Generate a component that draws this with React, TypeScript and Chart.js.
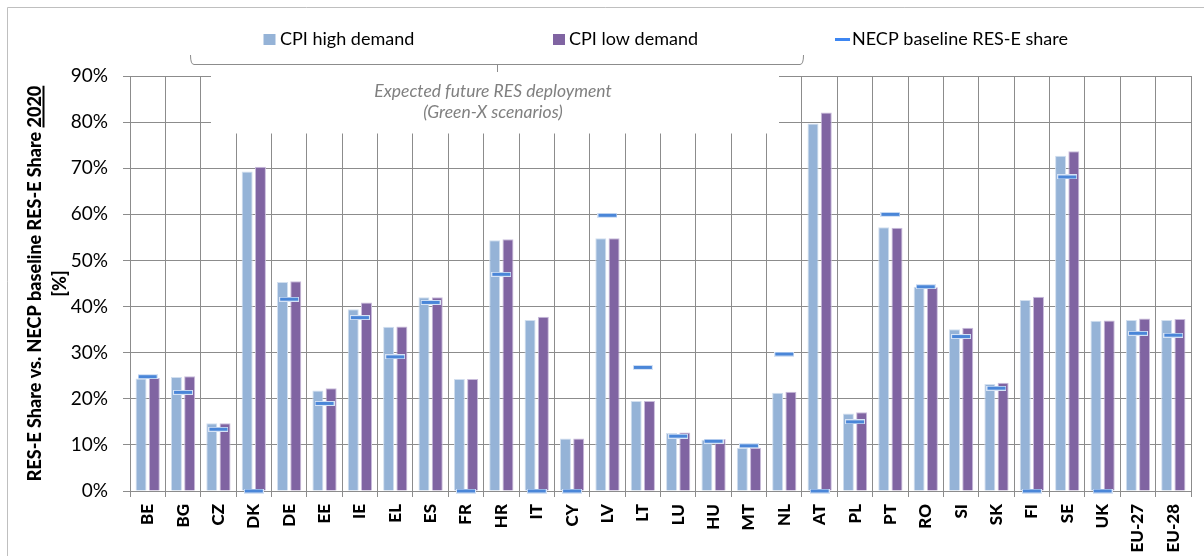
import React, { useEffect, useRef } from 'react';
import { Chart, registerables } from 'chart.js';

Chart.register(...registerables);

const categories = ['BE', 'BG', 'CZ', 'DK', 'DE', 'EE', 'IE', 'EL', 'ES', 'FR', 'HR', 'IT', 'CY', 'LV', 'LT', 'LU', 'HU', 'MT', 'NL', 'AT', 'PL', 'PT', 'RO', 'SI', 'SK', 'FI', 'SE', 'UK', 'EU-27', 'EU-28'];

const cpiHighDemand = [24.4, 24.7, 14.7, 69.3, 45.3, 21.8, 39.4, 35.6, 42.0, 24.3, 54.4, 37.1, 11.4, 54.8, 19.5, 12.6, 11.1, 9.3, 21.3, 79.7, 16.8, 57.2, 44.3, 35.1, 23.2, 41.4, 72.7, 36.9, 37.1, 37.1];

const cpiLowDemand = [24.5, 24.9, 14.7, 70.3, 45.5, 22.3, 40.9, 35.7, 42.0, 24.3, 54.6, 37.8, 11.4, 54.8, 19.5, 12.7, 11.3, 9.3, 21.5, 82.1, 17.1, 57.1, 44.2, 35.4, 23.5, 42.1, 73.7, 37.0, 37.4, 37.3];

const necpBaseline = [24.8, 21.4, 13.4, 0, 41.6, 19.0, 37.6, 29.1, 40.9, 0, 47.0, 0, 0, 59.8, 26.8, 11.9, 10.8, 9.8, 29.7, 0, 15.0, 60.0, 44.3, 33.5, 22.3, 0, 68.1, 0, 34.2, 33.8];

const yMin = 0;
const yMax = 90;
const yStep = 10;

const legendLabels = ['CPI high demand', 'CPI low demand', 'NECP baseline RES-E share'];
const yTitleLine1 = 'RES-E Share vs. NECP baseline RES-E Share ';
const yTitleYear = '2020';
const yTitleLine2 = '[%]';
const noteLines = ['Expected future RES deployment', '(Green-X scenarios)'];

const FONT = 'Lato, "Liberation Sans", sans-serif';
const BLUE = '#95B3D7';
const PURPLE = '#8064A2';
const MARK = '#4a86d8';
const GRID = '#8c8c8c';

function makeMarker(): HTMLCanvasElement {
  const c = document.createElement('canvas');
  c.width = 20;
  c.height = 5;
  const g = c.getContext('2d')!;
  g.fillStyle = '#d6e3f5';
  g.fillRect(0, 0, 20, 5);
  g.fillStyle = MARK;
  g.fillRect(1, 1, 18, 3);
  return c;
}

const decor = {
  id: 'decor',
  beforeDraw(chart: any) {
    const ctx = chart.ctx;
    ctx.save();
    ctx.fillStyle = '#fff';
    ctx.fillRect(0, 0, chart.width, chart.height);
    ctx.strokeStyle = '#bfbfbf';
    ctx.lineWidth = 1;
    ctx.beginPath();
    ctx.moveTo(7.5, chart.height);
    ctx.lineTo(7.5, 7.5);
    ctx.lineTo(chart.width, 7.5);
    ctx.stroke();
    ctx.restore();
  },
  beforeDatasetsDraw(chart: any) {
    const ctx = chart.ctx;
    const a = chart.chartArea;
    ctx.save();
    ctx.fillStyle = '#fff';
    ctx.fillRect(a.left + 81, a.top - 10, 568, 67.5);
    ctx.restore();
  },
  afterDraw(chart: any) {
    const ctx = chart.ctx;
    const a = chart.chartArea;
    ctx.save();
    // legend
    ctx.font = `18px ${FONT}`;
    ctx.textBaseline = 'alphabetic';
    ctx.textAlign = 'left';
    ctx.fillStyle = BLUE;
    ctx.fillRect(263.5, 34, 12, 11);
    ctx.fillStyle = PURPLE;
    ctx.fillRect(553, 34, 12, 11);
    ctx.fillStyle = '#3d86f2';
    ctx.fillRect(835, 38, 15, 3);
    ctx.fillStyle = '#000';
    ctx.fillText(legendLabels[0], 280, 45);
    ctx.fillText(legendLabels[1], 569, 45);
    ctx.fillText(legendLabels[2], 852, 45);

    // bracket
    ctx.strokeStyle = '#8c8c8c';
    ctx.lineWidth = 1;
    ctx.beginPath();
    ctx.moveTo(190.5, 55);
    ctx.quadraticCurveTo(190.5, 64.5, 194, 64.5);
    ctx.lineTo(800, 64.5);
    ctx.quadraticCurveTo(803.5, 64.5, 803.5, 55);
    ctx.moveTo(497.5, 64.5);
    ctx.lineTo(497.5, 72);
    ctx.stroke();

    // note
    ctx.font = `italic 17.5px ${FONT}`;
    ctx.fillStyle = '#808080';
    ctx.textAlign = 'center';
    ctx.fillText(noteLines[0], 493, 97);
    ctx.fillText(noteLines[1], 493, 118);

    // y title
    const cy = (a.top + a.bottom) / 2;
    ctx.translate(35, cy);
    ctx.rotate(-Math.PI / 2);
    ctx.font = `900 18px ${FONT}`;
    ctx.fillStyle = '#000';
    ctx.textAlign = 'left';
    ctx.textBaseline = 'middle';
    const full = yTitleLine1 + yTitleYear;
    const w = ctx.measureText(full).width;
    const w1 = ctx.measureText(yTitleLine1).width;
    const w2 = ctx.measureText(yTitleYear).width;
    ctx.fillText(yTitleLine1, -w / 2, 0);
    ctx.fillText(yTitleYear, -w / 2 + w1, 0);
    ctx.fillRect(-w / 2 + w1, 7.5, w2, 2);
    ctx.textAlign = 'center';
    ctx.fillText(yTitleLine2, 0, 25);
    ctx.restore();
  },
};

export default function App() {
  const ref = useRef<HTMLCanvasElement | null>(null);

  useEffect(() => {
    if (!ref.current) return;
    const marker = makeMarker();
    const chart = new Chart(ref.current, {
      type: 'bar',
      data: {
        labels: categories,
        datasets: [
          {
            type: 'bar',
            label: legendLabels[0],
            data: cpiHighDemand,
            backgroundColor: BLUE,
            borderColor: '#d2dfef',
            borderWidth: 1,
            categoryPercentage: 0.75,
            barPercentage: 0.83,
            order: 2,
          },
          {
            type: 'bar',
            label: legendLabels[1],
            data: cpiLowDemand,
            backgroundColor: PURPLE,
            borderColor: '#c9bcdb',
            borderWidth: 1,
            categoryPercentage: 0.75,
            barPercentage: 0.83,
            order: 2,
          },
          {
            type: 'line',
            label: legendLabels[2],
            data: necpBaseline,
            showLine: false,
            pointStyle: marker as any,
            pointRadius: 3,
            clip: false as any,
            order: 1,
          },
        ],
      } as any,
      options: {
        responsive: false,
        animation: false,
        layout: { padding: { left: 0, top: 76, right: 13, bottom: 0 } },
        plugins: {
          legend: { display: false },
          tooltip: { enabled: false },
        },
        scales: {
          x: {
            grid: { color: GRID, tickLength: 6, offset: true },
            border: { color: GRID },
            ticks: {
              font: { family: FONT, size: 17, weight: '900' },
              color: '#000',
              minRotation: 90,
              maxRotation: 90,
              autoSkip: false,
              padding: 7,
            },
            afterFit: (s: any) => {
              s.height = 65;
            },
          },
          y: {
            min: yMin,
            max: yMax,
            ticks: {
              stepSize: yStep,
              callback: (v: any) => v + '%',
              font: { family: FONT, size: 19 },
              color: '#000',
              padding: 15,
            },
            grid: { color: GRID, tickLength: 7 },
            border: { color: GRID },
            afterFit: (s: any) => {
              s.width = 130;
            },
          },
        },
      } as any,
      plugins: [decor],
    });
    return () => chart.destroy();
  }, []);

  return (
    <div style={{ position: 'fixed', left: 0, top: 0, width: 1204, height: 556, background: '#fff' }}>
      <canvas ref={ref} width={1204} height={556} style={{ width: 1204, height: 556, display: 'block' }} />
    </div>
  );
}
